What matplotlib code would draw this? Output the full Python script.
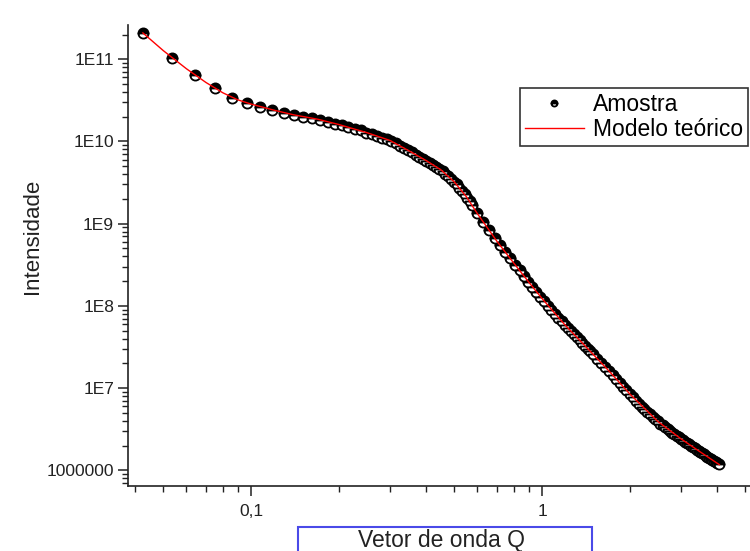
import math
import matplotlib
matplotlib.use('Agg')
import matplotlib.pyplot as plt
from matplotlib.ticker import LogLocator, FuncFormatter, NullFormatter
from matplotlib.patches import Rectangle

plt.rcParams['font.family'] = ['Liberation Sans', 'DejaVu Sans']

# dados (Q, intensidade)
q_amostra = [
    0.0425, 0.0534, 0.0643, 0.0751, 0.086, 0.0968, 0.1077, 0.1185, 0.1294, 0.1402,
    0.1511, 0.162, 0.1728, 0.1837, 0.1945, 0.2054, 0.2162, 0.2271, 0.2379, 0.2488,
    0.2597, 0.2705, 0.2814, 0.2922, 0.3031, 0.3139, 0.3248, 0.3356, 0.3465, 0.3574,
    0.3682, 0.3791, 0.3899, 0.4008, 0.4116, 0.4225, 0.4333, 0.4442, 0.4551, 0.4659,
    0.4768, 0.4876, 0.4985, 0.5093, 0.5202, 0.531, 0.5419, 0.5528, 0.5636, 0.5745,
    0.597, 0.627, 0.657, 0.687, 0.717, 0.747, 0.777, 0.807, 0.837, 0.867,
    0.897, 0.927, 0.957, 0.987, 1.017, 1.047, 1.077, 1.107, 1.137, 1.167,
    1.197, 1.227, 1.257, 1.287, 1.317, 1.347, 1.377, 1.407, 1.437, 1.467,
    1.497, 1.55, 1.60, 1.65, 1.70, 1.75, 1.80, 1.85, 1.90, 1.95,
    2.00, 2.05, 2.10, 2.15, 2.20, 2.25, 2.30, 2.35, 2.40, 2.45,
    2.50, 2.55, 2.60, 2.65, 2.70, 2.75, 2.80, 2.85, 2.90, 2.95,
    3.00, 3.05, 3.10, 3.15, 3.20, 3.25, 3.30, 3.35, 3.40, 3.45,
    3.50, 3.55, 3.60, 3.65, 3.70, 3.75, 3.80, 3.85, 3.90, 3.95,
    4.00, 4.05,
]
i_amostra = [
    2.09e11, 1.04e11, 6.37e10, 4.43e10, 3.40e10, 2.94e10, 2.66e10, 2.43e10, 2.23e10, 2.11e10,
    2.01e10, 1.93e10, 1.84e10, 1.74e10, 1.65e10, 1.57e10, 1.49e10, 1.43e10, 1.36e10, 1.28e10,
    1.22e10, 1.16e10, 1.11e10, 1.06e10, 1.01e10, 9.51e9, 8.90e9, 8.40e9, 7.88e9, 7.38e9,
    6.92e9, 6.50e9, 6.12e9, 5.76e9, 5.44e9, 5.14e9, 4.86e9, 4.60e9, 4.33e9, 4.07e9,
    3.78e9, 3.50e9, 3.25e9, 3.02e9, 2.74e9, 2.49e9, 2.28e9, 2.08e9, 1.90e9, 1.71e9,
    1.36e9, 1.04e9, 8.26e8, 6.64e8, 5.46e8, 4.53e8, 3.78e8, 3.18e8, 2.70e8, 2.30e8,
    1.97e8, 1.71e8, 1.49e8, 1.30e8, 1.14e8, 1.01e8, 9.02e7, 8.04e7, 7.18e7, 6.47e7,
    5.90e7, 5.38e7, 4.93e7, 4.52e7, 4.15e7, 3.82e7, 3.52e7, 3.25e7, 3.01e7, 2.79e7,
    2.59e7, 2.28e7, 2.02e7, 1.81e7, 1.61e7, 1.44e7, 1.29e7, 1.16e7, 1.04e7, 9.42e6,
    8.53e6, 7.74e6, 7.05e6, 6.43e6, 5.93e6, 5.51e6, 5.14e6, 4.80e6, 4.48e6, 4.19e6,
    3.93e6, 3.69e6, 3.51e6, 3.33e6, 3.18e6, 3.03e6, 2.88e6, 2.75e6, 2.63e6, 2.52e6,
    2.42e6, 2.32e6, 2.23e6, 2.15e6, 2.07e6, 1.99e6, 1.92e6, 1.85e6, 1.79e6, 1.73e6,
    1.67e6, 1.61e6, 1.56e6, 1.51e6, 1.47e6, 1.42e6, 1.38e6, 1.34e6, 1.30e6, 1.26e6,
    1.22e6, 1.19e6,
]

q_modelo = [0.0425, 0.05, 0.06, 0.07, 0.08, 0.09, 0.10, 0.12, 0.14, 0.17,
            0.20, 0.25, 0.30, 0.35, 0.40, 0.45, 0.50, 0.55, 0.60, 0.70,
            0.80, 0.90, 1.00, 1.20, 1.40, 1.70, 2.00, 2.50, 3.00, 3.50, 4.07]
i_modelo = [2.09e11, 1.27e11, 7.66e10, 5.22e10, 3.91e10, 3.21e10, 2.85e10, 2.40e10, 2.11e10, 1.86e10,
            1.61e10, 1.28e10, 1.03e10, 7.65e9, 5.85e9, 4.50e9, 3.21e9, 2.12e9, 1.32e9, 6.10e8,
            3.31e8, 1.95e8, 1.23e8, 5.85e7, 3.31e7, 1.61e7, 8.53e6, 3.93e6, 2.42e6, 1.67e6, 1.17e6]

fig = plt.figure(figsize=(7.5, 5.51), dpi=100)
ax = fig.add_axes([128/750, 65/551, 622/750, 461/551])

ax.plot(q_amostra, i_amostra, linestyle='none', marker='o', markersize=7.3,
        fillstyle='top', markerfacecolor='black', markerfacecoloralt='white',
        markeredgecolor='black', markeredgewidth=1.3, label='Amostra')
ax.plot(q_modelo, i_modelo, color='red', linewidth=1.0, label='Modelo teórico')

ax.set_xscale('log')
ax.set_yscale('log')
ax.set_xlim(0.03778, 5.185)
ax.set_ylim(6.44e5, 2.61e11)

for s in ['top', 'right']:
    ax.spines[s].set_visible(False)
for s in ['left', 'bottom']:
    ax.spines[s].set_linewidth(1.2)
    ax.spines[s].set_color('#222222')

ax.xaxis.set_major_locator(LogLocator(base=10))
ax.xaxis.set_minor_locator(LogLocator(base=10, subs=range(2, 10)))
ax.xaxis.set_minor_formatter(NullFormatter())
ax.xaxis.set_major_formatter(FuncFormatter(lambda v, p: ('%g' % v).replace('.', ',')))

ax.yaxis.set_major_locator(LogLocator(base=10))
ax.yaxis.set_minor_locator(LogLocator(base=10, subs=range(2, 10)))
ax.yaxis.set_minor_formatter(NullFormatter())

def fmt_y(v, pos):
    e = int(round(math.log10(v)))
    if e <= 6:
        return '%d' % round(v)
    return '1E%d' % e

ax.yaxis.set_major_formatter(FuncFormatter(fmt_y))

ax.tick_params(which='major', direction='out', length=7, width=1.1, colors='#222222', labelsize=12.5)
ax.tick_params(which='minor', direction='out', length=4, width=1.0, colors='#222222')
ax.tick_params(axis='y', which='major', pad=3)
ax.tick_params(axis='x', which='major', pad=6)

leg = ax.legend(loc='upper right', bbox_to_anchor=(0.997, 0.863), borderaxespad=0,
                fontsize=16.5, markerscale=0.6, handlelength=2.6, handletextpad=0.4,
                labelspacing=0.12, borderpad=0.2, fancybox=False, framealpha=1)
leg.get_frame().set_edgecolor('#333333')
leg.get_frame().set_linewidth(1.2)

fig.text(33/750, 1 - 236/551, 'Intensidade', rotation=90, ha='center', va='center',
         fontsize=16, color='#222222')

# caixa azul do titulo do eixo x
fig.patches.append(Rectangle((298/750, -0.05), 294/750, 0.05 + 24/551, transform=fig.transFigure,
                             fill=False, edgecolor='#4a4ae8', linewidth=1.5))
fig.text(441.5/750, 4/551, 'Vetor de onda Q', ha='center', va='baseline',
         fontsize=16.5, color='#222222')

fig.savefig('out.png', dpi=100)
